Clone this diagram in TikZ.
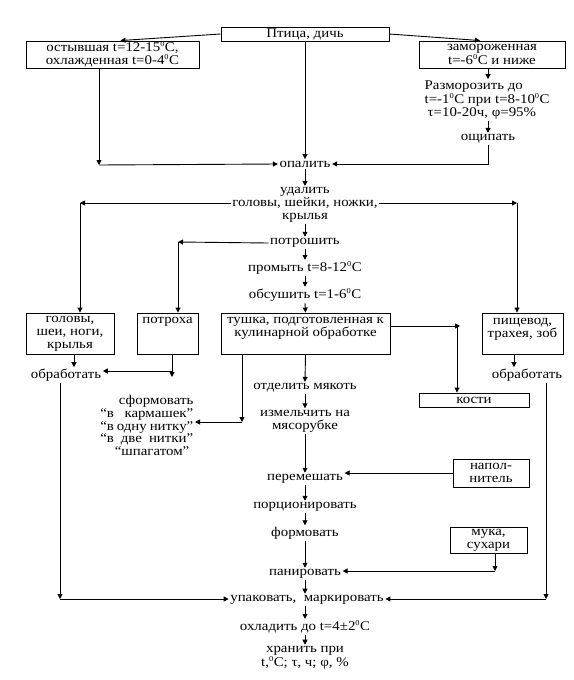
\documentclass[tikz,border=0pt]{standalone}
\usepackage{fontspec}
\setmainfont{Liberation Serif}[FakeStretch=1.12]
\usetikzlibrary{arrows.meta}
\newcommand\dgr{\textsuperscript{\fontsize{7.5}{7.5}\selectfont 0}}
\begin{document}
\begin{tikzpicture}[x=1pt,y=-1pt,
  every node/.style={font=\fontsize{13.3}{12.8}\selectfont},
  box/.style={draw, line width=0.9pt, inner sep=0pt, align=center},
  txt/.style={align=center, inner sep=1.5pt},
  arr/.style={-{Triangle[length=5pt,width=5pt]}, line width=0.9pt},
  ln/.style={line width=0.9pt}]
\useasboundingbox[fill=white] (0,0) rectangle (573,680);
% boxes
\node[box, minimum width=168, minimum height=14] (top) at (305,34) {Птица, дичь};
\node[box, minimum width=173, minimum height=27] (cool) at (112.5,54.5) {остывшая t=12-15\dgr C,\\охлажденная t=0-4\dgr C};
\node[box, minimum width=146, minimum height=27] (frozen) at (492,54.5) {замороженная\\t=-6\dgr C и ниже};
\node[box, minimum width=88, minimum height=41] (heads) at (70,333.5) {головы,\\шеи, ноги,\\крылья};
\node[box, minimum width=61, minimum height=41] (potroha) at (167.5,333.5) {};
\node[txt] (potrohat) at (167.5,322) {потроха};
\node[box, minimum width=169, minimum height=41] (tushka) at (305.5,333.5) {};
\node[txt] (tushkat) at (305.5,328.5) {тушка, подготовленная к\\кулинарной обработке};
\node[box, minimum width=81, minimum height=41] (pish) at (522.5,333.5) {};
\node[txt] (pisht) at (522.5,329) {пищевод,\\трахея, зоб};
\node[box, minimum width=110, minimum height=14] (kosti) at (474,400) {кости};
\node[box, minimum width=76, minimum height=28] (napoln) at (491,473) {напол-\\нитель};
\node[box, minimum width=77, minimum height=26] (muka) at (488.5,540) {мука,\\сухари};
% text nodes
\node[txt, anchor=west, align=left] (razmor) at (423,100) {Разморозить до\\t=-1\dgr C при t=8-10\dgr C\\\hspace*{3pt}τ=10-20ч, φ=95\%};
\node[txt] (oshch) at (488,139) {ощипать};
\node[txt] (opalit) at (305,164) {опалить};
\node[txt] (udalit) at (305,205) {удалить\\головы, шейки, ножки,\\крылья};
\node[txt] (potr) at (305,243) {потрошить};
\node[txt] (promyt) at (305,268) {промыть t=8-12\dgr C};
\node[txt] (obsush) at (305,295) {обсушить t=1-6\dgr C};
\node[txt] (obrab1) at (66,375) {обработать};
\node[txt] (obrab2) at (527,375) {обработать};
\node[txt, anchor=east, align=right] (sform) at (195,425.5) {сформовать\\\makebox[93pt][s]{“в\ \ кармашек”}\\\makebox[93pt][s]{“в одну нитку”}\\\makebox[93pt][s]{“в\ \ две\ \ нитки”}\\“шпагатом”\hspace*{4pt}};
\node[txt] (otdel) at (305,388) {отделить мякоть};
\node[txt] (izmel) at (305,421) {измельчить на\\мясорубке};
\node[txt] (perem) at (305,479) {перемешать};
\node[txt] (porc) at (305,507) {порционировать};
\node[txt] (form) at (305,533) {формовать};
\node[txt] (panir) at (305,574) {панировать};
\node[txt] (upak) at (307,600) {упаковать,\ \ маркировать};
\node[txt] (okhl) at (305,627) {охладить до t=4±2\dgr C};
\node[txt] (hran) at (305,658) {хранить при\\t,\dgr C; τ, ч; φ, \%};
% coordinates
\coordinate (cL) at (99,165);
\coordinate (cR) at (488,164);
\coordinate (cUL) at (80,203);
\coordinate (cUR) at (517,203);
\coordinate (cP) at (178,242);
\coordinate (cK) at (457,326);
\coordinate (cS) at (242,422);
\coordinate (cQ) at (172,377);
\coordinate (cQ2) at (172,371);
\coordinate (cB) at (60,599);
\coordinate (cE) at (546,599);
\coordinate (cM) at (495,571);
\coordinate (cH) at (74,0);
\coordinate (cPi) at (514,0);
% connectors top
\draw[arr] (top.west) -- ([xshift=8pt]cool.north);
\draw[arr] (top.east) -- ([xshift=-12pt]frozen.north);
\draw[arr] (top.south) -- (opalit.north);
\draw[arr] (cool.south -| cL) -- (cL);
\draw[arr] (cL) -- (opalit.west);
\draw[arr] (frozen.south -| cR) -- (razmor.north -| cR);
\draw[arr] (razmor.south -| cR) -- (oshch.north);
\draw[arr] (oshch.south) -- (cR) -- (opalit.east);
% middle
\draw[arr] (opalit.south) -- (udalit.north);
\draw[arr] (udalit.west |- cUL) -- (cUL);
\draw[arr] (cUL) -- (heads.north -| cUL);
\draw[arr] (udalit.east |- cUR) -- (cUR);
\draw[arr] (cUR) -- (pish.north -| cUR);
\draw[arr] (udalit.south) -- (potr.north);
\draw[arr] (potr.west) -- (cP);
\draw[arr] (cP) -- (potroha.north -| cP);
\draw[arr] (potr.south) -- (promyt.north);
\draw[arr] (promyt.south) -- (obsush.north);
\draw[arr] (obsush.south) -- (tushka.north);
\draw[arr] (tushka.east |- cK) -- ([xshift=3pt]cK);
\draw[arr] (cK) -- (kosti.north -| cK);
\draw[arr] (tushka.south) -- (otdel.north);
\draw[arr] (tushka.south -| cS) -- (cS);
\draw[arr] (cS) -- (sform.east |- cS);
\draw[arr] (otdel.south) -- (izmel.north);
\draw[arr] (izmel.south) -- (perem.north);
\draw[arr] (napoln.west) -- (napoln.west -| perem.east);
\draw[arr] (perem.south) -- (porc.north);
\draw[arr] (porc.south) -- (form.north);
\draw[arr] (form.south) -- (panir.north);
\draw[arr] (muka.south -| cM) -- (cM);
\draw[arr] (cM) -- (panir.east |- cM);
\draw[arr] (panir.south) -- (upak.north -| panir.south);
\draw[arr] (upak.south -| okhl.north) -- (okhl.north);
\draw[arr] (okhl.south) -- (hran.north);
% left side
\draw[arr] (heads.south -| cH) -- (obrab1.north -| cH);
\draw[arr] (potroha.south -| cQ) -- (cQ);
\draw[arr] (cQ2) -- (obrab1.east |- cQ2);
\draw[arr] (obrab1.south -| cB) -- (cB);
\draw[arr] (cB) -- (upak.west |- cB);
% right side
\draw[arr] (pish.south -| cPi) -- (obrab2.north -| cPi);
\draw[arr] (obrab2.south -| cE) -- (cE);
\draw[arr] (cE) -- (upak.east |- cE);
\end{tikzpicture}
\end{document}
